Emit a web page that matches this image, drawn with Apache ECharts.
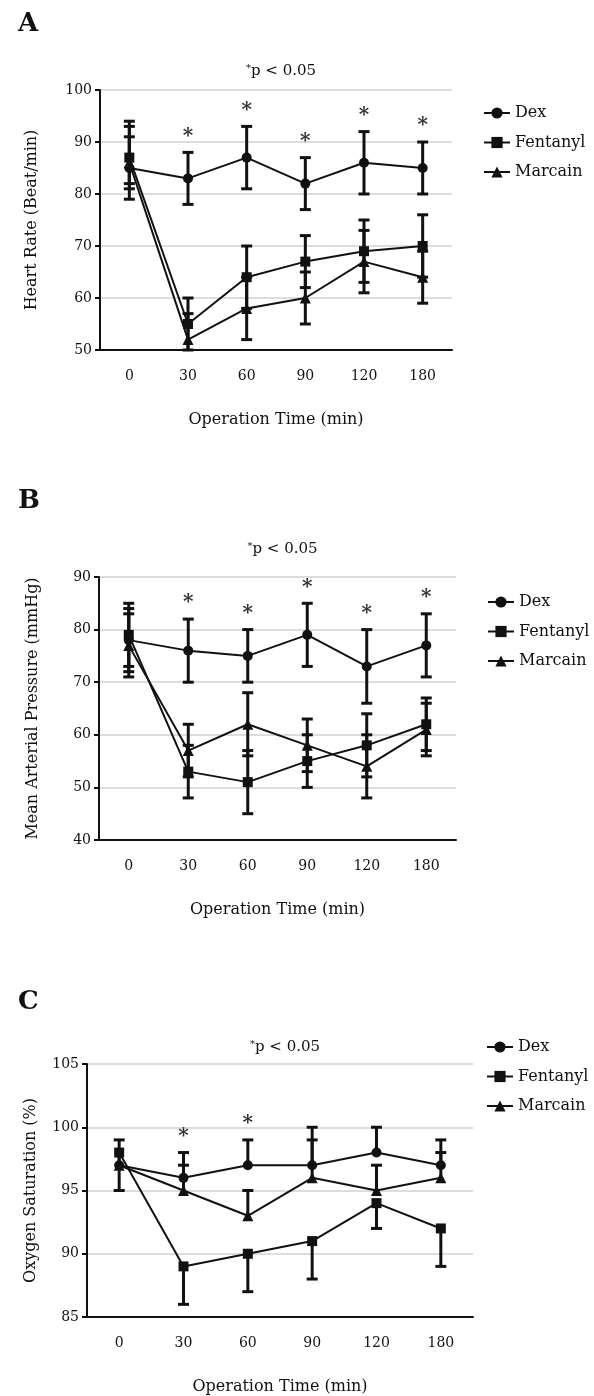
<!DOCTYPE html>
<html><head><meta charset="utf-8">
<script src="https://cdn.jsdelivr.net/npm/echarts@6/dist/echarts.min.js"></script>
<style>html,body{margin:0;padding:0;background:#fff}#c{width:594px;height:1396px}</style>
</head><body><div id="c"></div><script>
const categories = ['0','30','60','90','120','180'];
const seriesNames = ['Dex','Fentanyl','Marcain'];
const symbols = ['circle','rect','triangle'];

// Panel A: Heart Rate
const hrDex = [85,83,87,82,86,85];
const hrDexLow = [79,78,81,77,80,80];
const hrDexHigh = [91,88,93,87,92,90];
const hrFen = [87,55,64,67,69,70];
const hrFenLow = [81,50,58,62,63,64];
const hrFenHigh = [93,60,70,72,75,76];
const hrMar = [86,52,58,60,67,64];
const hrMarLow = [82,47,52,55,61,59];
const hrMarHigh = [94,57,64,65,73,69];
const hrSig = [0,1,1,1,1,1];
const hrTicks = [50,60,70,80,90,100];

// Panel B: Mean Arterial Pressure
const mapDex = [78,76,75,79,73,77];
const mapDexLow = [72,70,70,73,66,71];
const mapDexHigh = [84,82,80,85,80,83];
const mapFen = [79,53,51,55,58,62];
const mapFenLow = [73,48,45,50,52,57];
const mapFenHigh = [85,58,57,60,64,67];
const mapMar = [77,57,62,58,54,61];
const mapMarLow = [71,52,56,53,48,56];
const mapMarHigh = [83,62,68,63,60,66];
const mapSig = [0,1,1,1,1,1];
const mapTicks = [40,50,60,70,80,90];

// Panel C: Oxygen Saturation
const o2Dex = [97,96,97,97,98,97];
const o2DexLow = [97,96,97,97,98,97];
const o2DexHigh = [99,98,99,100,100,99];
const o2Fen = [98,89,90,91,94,92];
const o2FenLow = [95,86,87,88,92,89];
const o2FenHigh = [98,89,90,91,94,92];
const o2Mar = [97,95,93,96,95,96];
const o2MarLow = [97,95,93,96,95,96];
const o2MarHigh = [97,97,95,99,97,98];
const o2Sig = [0,1,1,0,0,0];
const o2Ticks = [85,90,95,100,105];

const FONT = "'DejaVu Serif', serif";
const INK = '#111';

const panels = [
  { letter:'A', yName:'Heart Rate (Beat/min)', ticks:hrTicks, sig:hrSig,
    vals:[hrDex,hrFen,hrMar], lows:[hrDexLow,hrFenLow,hrMarLow], highs:[hrDexHigh,hrFenHigh,hrMarHigh],
    grid:{left:100, top:90, width:352, height:260}, letterTop:6, titleY:58, legendLeft:478, legendTop:100, yGap:60 },
  { letter:'B', yName:'Mean Arterial Pressure (mmHg)', ticks:mapTicks, sig:mapSig,
    vals:[mapDex,mapFen,mapMar], lows:[mapDexLow,mapFenLow,mapMarLow], highs:[mapDexHigh,mapFenHigh,mapMarHigh],
    grid:{left:99, top:577, width:357, height:263}, letterTop:483, titleY:536, legendLeft:482, legendTop:589, yGap:58 },
  { letter:'C', yName:'Oxygen Saturation (%)', ticks:o2Ticks, sig:o2Sig,
    vals:[o2Dex,o2Fen,o2Mar], lows:[o2DexLow,o2FenLow,o2MarLow], highs:[o2DexHigh,o2FenHigh,o2MarHigh],
    grid:{left:87, top:1064, width:386, height:253}, letterTop:984, titleY:1034, legendLeft:481, legendTop:1034, yGap:48 }
];

function errRender(params, api) {
  const i = api.value(0), lo = api.value(1), hi = api.value(2), sig = api.value(3), mean = api.value(4);
  const cs = params.coordSys;
  const pLo = api.coord([i, lo]);
  const pHi = api.coord([i, hi]);
  const yTop = cs.y, yBot = cs.y + cs.height;
  const x = pLo[0];
  const y1 = Math.min(Math.max(pLo[1], yTop), yBot);
  const y2 = Math.min(Math.max(pHi[1], yTop), yBot);
  const st = { stroke: INK, lineWidth: 3 };
  const ch = [];
  if (y1 !== y2) ch.push({ type:'line', shape:{x1:x, y1:y1, x2:x, y2:y2}, style:st });
  if (lo < mean && pLo[1] <= yBot) ch.push({ type:'line', shape:{x1:x-5.5, y1:pLo[1], x2:x+5.5, y2:pLo[1]}, style:st });
  if (hi > mean && pHi[1] >= yTop) ch.push({ type:'line', shape:{x1:x-5.5, y1:pHi[1], x2:x+5.5, y2:pHi[1]}, style:st });
  if (sig) ch.push({ type:'text', style:{ text:'*', x:x, y:pHi[1]-16, align:'center', verticalAlign:'middle',
      fontFamily: FONT, fontSize: 20, fontWeight:'bold', fill: '#333' } });
  return { type:'group', children: ch };
}

const option = { backgroundColor:'#fff', animation:false, title:[], grid:[], xAxis:[], yAxis:[], legend:[], series:[] };

panels.forEach((p, k) => {
  option.grid.push(Object.assign({ containLabel:false }, p.grid));
  option.title.push({ text:p.letter, left:13, top:p.letterTop,
    textStyle:{ fontFamily:FONT, fontWeight:'bold', fontSize:26, color:INK } });
  option.title.push({ text:'{s|*}{m|p < 0.05}', left:p.grid.left + p.grid.width/2, top:p.titleY, textAlign:'center',
    textStyle:{ fontWeight:'normal', rich:{ s:{ fontFamily:FONT, fontSize:10, fontWeight:'normal', color:INK, verticalAlign:'top', padding:[0,0,6,0] },
                       m:{ fontFamily:FONT, fontSize:15, fontWeight:'normal', color:INK } } } });
  option.legend.push({ data:seriesNames, orient:'vertical', left:p.legendLeft, top:p.legendTop,
    itemWidth:26, itemHeight:14, itemGap:13.5, selectedMode:false,
    textStyle:{ fontFamily:FONT, fontSize:16, color:INK, lineHeight:16 } });
  const t = p.ticks;
  option.xAxis.push({ gridIndex:k, type:'category', data:categories, boundaryGap:true,
    axisLine:{ lineStyle:{ color:INK, width:2 } },
    axisTick:{ alignWithLabel:true, length:6, lineStyle:{ color:INK, width:2 } },
    axisLabel:{ fontFamily:FONT, fontSize:14, color:INK, margin:19 },
    splitLine:{ show:false },
    name:'Operation Time (min)', nameLocation:'middle', nameGap:62,
    nameTextStyle:{ fontFamily:FONT, fontSize:16, color:INK } });
  option.yAxis.push({ gridIndex:k, type:'value', min:t[0], max:t[t.length-1], interval:t[1]-t[0],
    axisLine:{ show:true, lineStyle:{ color:INK, width:2 } },
    axisTick:{ show:true, length:5, lineStyle:{ color:INK, width:2 } },
    axisLabel:{ fontFamily:FONT, fontSize:14, color:INK, margin:8 },
    splitLine:{ show:true, lineStyle:{ color:'#d2d2d2', width:1.5 } },
    name:p.yName, nameLocation:'middle', nameGap:p.yGap, nameRotate:90,
    nameTextStyle:{ fontFamily:FONT, fontSize:16, color:INK } });
  for (let s = 0; s < 3; s++) {
    const errData = categories.map((c, i) => [i, p.lows[s][i], p.highs[s][i], s === 0 ? p.sig[i] : 0, p.vals[s][i]]);
    option.series.push({ type:'custom', name:seriesNames[s] + ' SD', xAxisIndex:k, yAxisIndex:k,
      renderItem:errRender, data:errData, encode:{ x:0, y:[1,2] }, z:2, silent:true });
    option.series.push({ type:'line', name:seriesNames[s], xAxisIndex:k, yAxisIndex:k,
      data:p.vals[s], symbol:symbols[s], symbolSize: s === 2 ? 11 : 10, showAllSymbol:true,
      lineStyle:{ color:INK, width:2 }, itemStyle:{ color:INK, borderWidth:0 }, z:3 });
  }
});

const chart = echarts.init(document.getElementById('c'), null, { renderer:'canvas' });
chart.setOption(option);
</script></body></html>
